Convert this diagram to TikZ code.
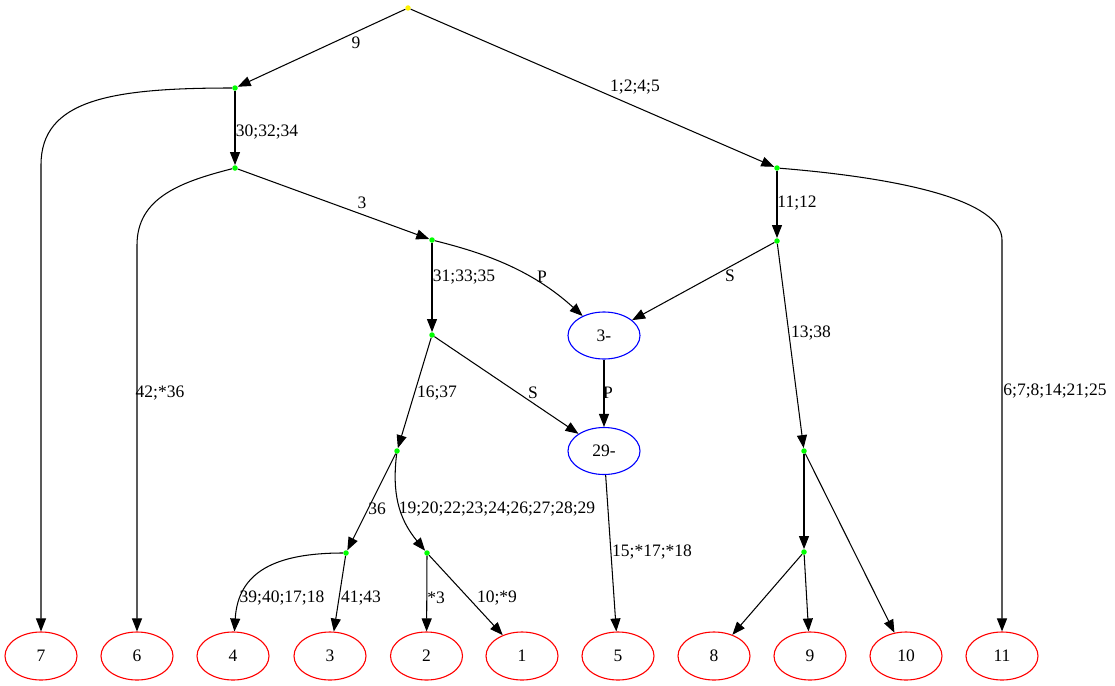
\documentclass[tikz,border=0pt]{standalone}
\usepackage{fontspec}
\setmainfont{Liberation Serif}
\usetikzlibrary{shapes.geometric,arrows.meta}
\begin{document}
\begin{tikzpicture}[x=1pt,y=-1pt,
  every node/.style={font=\fontsize{17.5}{20}\selectfont},
  dot/.style={circle,fill=green,draw=none,inner sep=0pt,minimum size=5.5pt},
  rootdot/.style={circle,fill=yellow,draw=none,inner sep=0pt,minimum size=5.5pt},
  leaf/.style={ellipse,draw=red,line width=1.1pt,minimum width=72pt,minimum height=48pt,inner sep=0pt},
  mid/.style={ellipse,draw=blue,line width=1.1pt,minimum width=72pt,minimum height=47pt,inner sep=0pt},
  edge/.style={line width=1.05pt,-{Triangle[length=13pt,width=10pt]}},
  lbl/.style={inner sep=0pt}]
\useasboundingbox (0,0) rectangle (1115,685);

% branch points
\node[rootdot] (root) at (408,8) {};
\node[dot] (A) at (235,88) {};
\node[dot] (B) at (235,168) {};
\node[dot] (C) at (432,240) {};
\node[dot] (D) at (432,335) {};
\node[dot] (E) at (397,451) {};
\node[dot] (F) at (346,553) {};
\node[dot] (G) at (427,553) {};
\node[dot] (R) at (777,168) {};
\node[dot] (Rs) at (777,241) {};
\node[dot] (H) at (804,451) {};
\node[dot] (I) at (804,552) {};

% intermediate states
\node[mid] (m3) at (604,335.5) {3-};
\node[mid] (m29) at (604,451) {29-};

% leaves
\node[leaf] (n7) at (41,656) {7};
\node[leaf] (n6) at (137,656) {6};
\node[leaf] (n4) at (233,656) {4};
\node[leaf] (n3) at (330,656) {3};
\node[leaf] (n2) at (426.5,656) {2};
\node[leaf] (n1) at (522,656) {1};
\node[leaf] (n5) at (618,656) {5};
\node[leaf] (n8) at (714,656) {8};
\node[leaf] (n9) at (810,656) {9};
\node[leaf] (n10) at (906,656) {10};
\node[leaf] (n11) at (1002,656) {11};

% connectors
\draw[edge] (root) -- (A);
\draw[edge] (root) -- (R);
\draw[edge] (A) .. controls (110,88) and (41,100) .. (41,165) -- (n7);
\draw[edge] (A) -- (B);
\draw[edge] (B) .. controls (180,182) and (137,198) .. (137,245) -- (n6);
\draw[edge] (B) -- (C);
\draw[edge] (C) -- (D);
\draw[edge] (C) .. controls (480,252) and (530,268) .. (m3);
\draw[edge] (Rs) -- (m3);
\draw[edge] (R) -- (Rs);
\draw[edge] (R) .. controls (900,178) and (1002,200) .. (1002,240) -- (n11);
\draw[edge] (Rs) -- (H);
\draw[edge] (D) -- (E);
\draw[edge] (D) -- (m29);
\draw[edge] (m3) -- (m29);
\draw[edge] (E) -- (F);
\draw[edge] (E) .. controls (392,492) and (398,518) .. (G);
\draw[edge] (F) .. controls (275,553) and (238,572) .. (n4);
\draw[edge] (F) -- (n3);
\draw[edge] (G) -- (n2);
\draw[edge] (G) -- (n1);
\draw[edge] (m29) -- (n5);
\draw[edge] (H) -- (I);
\draw[edge] (H) -- (n10);
\draw[edge] (I) -- (n8);
\draw[edge] (I) -- (n9);

% connector labels
\node[lbl] (l1) at (356,43) {9};
\node[lbl] (l2) at (635,87) {1;2;4;5};
\node[lbl] (l3) at (267,132) {30;32;34};
\node[lbl] (l4) at (160,393) {42;*36};
\node[lbl] (l5) at (362,203) {3};
\node[lbl] (l6) at (464,277) {31;33;35};
\node[lbl] (l7) at (542,277) {P};
\node[lbl] (l8) at (730,276) {S};
\node[lbl] (l9) at (797,203) {11;12};
\node[lbl] (l10) at (1055,391) {6;7;8;14;21;25};
\node[lbl] (l11) at (811,333) {13;38};
\node[lbl] (l12) at (437,393) {16;37};
\node[lbl] (l13) at (533,393) {S};
\node[lbl] (l14) at (608,393) {P};
\node[lbl] (l15) at (377,509) {36};
\node[lbl] (l16) at (497,509) {19;20;22;23;24;26;27;28;29};
\node[lbl] (l17) at (282,598) {39;40;17;18};
\node[lbl] (l18) at (361,598) {41;43};
\node[lbl] (l19) at (436,598) {*3};
\node[lbl] (l20) at (497,598) {10;*9};
\node[lbl] (l21) at (652,552) {15;*17;*18};
\end{tikzpicture}
\end{document}
